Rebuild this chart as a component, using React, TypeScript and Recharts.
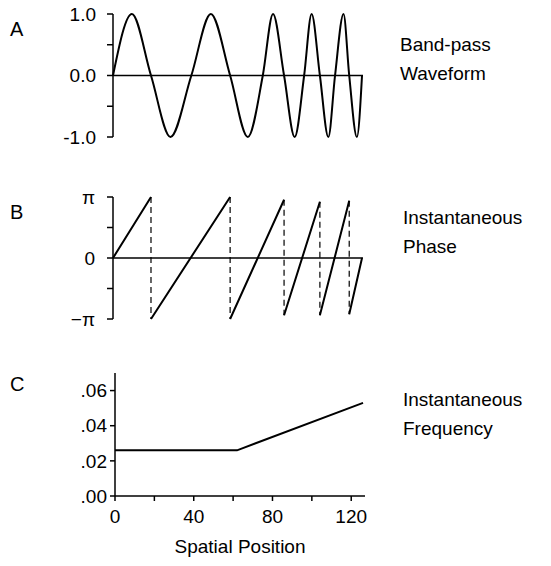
import { LineChart, Line, XAxis, YAxis, ReferenceLine } from 'recharts';

// Panel A: band-pass waveform, read at zero crossings and extrema
const waveX = [0, 9.6, 19.3, 29.2, 39.8, 49.7, 59.5, 68.5, 76.1, 81.3, 86.9, 92.3, 97.1, 100.9, 105.1, 109.4, 112.8, 117.1, 120, 123.9, 126.5];
const waveY = [0, 1, 0, -1, 0, 1, 0, -1, 0, 1, 0, -1, 0, 1, 0, -1, 0, 1, 0, -1, 0];

// Panel B: instantaneous phase (solid ramps, dashed wraps)
const PI = Math.PI;
const rampX = [0, 19.3, null, 19.3, 59.5, null, 59.5, 86.9, null, 86.9, 105.1, null, 105.1, 120, null, 120, 126.5];
const rampY = [0, PI, null, -PI, PI, null, -PI, 3.0, null, -2.95, 2.9, null, -2.95, 2.95, null, -2.9, 0];
const wrapX = [19.3, 19.3, null, 59.5, 59.5, null, 86.9, 86.9, null, 105.1, 105.1, null, 120, 120];
const wrapY = [PI, -PI, null, PI, -PI, null, 3.0, -2.95, null, 2.9, -2.95, null, 2.95, -2.9];

// Panel C: instantaneous frequency
const freqX = [0, 62, 126];
const freqY = [0.026, 0.026, 0.053];

const waveData = waveX.map((x, i) => ({ x, y: waveY[i] }));
const rampData = rampX.map((x, i) => ({ x, y: rampY[i] }));
const wrapData = wrapX.map((x, i) => ({ x, y: wrapY[i] }));
const freqData = freqX.map((x, i) => ({ x, y: freqY[i] }));

const font = '"Liberation Sans", Arial, sans-serif';
const tickStyle = { fontSize: 19, fill: '#000', fontFamily: font };
const axisLine = { stroke: '#000', strokeWidth: 1.5 };

const label = (left: number, top: number, text: string, size = 19) => (
  <div style={{ position: 'absolute', left, top, fontSize: size, fontFamily: font, color: '#000', lineHeight: '29px', whiteSpace: 'pre' }}>
    {text}
  </div>
);

export default function App() {
  return (
    <div style={{ position: 'absolute', left: 0, top: 0, width: 551, height: 566, background: '#fff' }}>
      <div style={{ position: 'absolute', left: 0, top: 0 }}>
        <LineChart width={551} height={150} data={waveData} margin={{ top: 14, bottom: 13, left: 53, right: 188 }}>
          <XAxis dataKey="x" type="number" domain={[0, 127]} hide />
          <YAxis
            domain={[-1, 1]}
            ticks={[-1, -0.5, 0, 0.5, 1]}
            tickFormatter={(v: number) => (v === 1 ? '1.0' : v === 0 ? '0.0' : v === -1 ? '-1.0' : '')}
            width={60}
            tick={tickStyle}
            tickLine={axisLine}
            axisLine={axisLine}
            tickMargin={11}
          />
          <ReferenceLine y={0} stroke="#000" strokeWidth={1.5} />
          <Line data={waveData} dataKey="y" type="monotone" stroke="#000" strokeWidth={2} dot={false} isAnimationActive={false} />
        </LineChart>
      </div>

      <div style={{ position: 'absolute', left: 0, top: 185 }}>
        <LineChart width={551} height={150} margin={{ top: 12, bottom: 16, left: 53, right: 188 }}>
          <XAxis dataKey="x" type="number" domain={[0, 127]} hide />
          <YAxis
            domain={[-PI, PI]}
            ticks={[-PI, -PI / 2, 0, PI / 2, PI]}
            tickFormatter={(v: number) => (v === PI ? 'π' : v === 0 ? '0' : v === -PI ? '−π' : '')}
            width={60}
            tick={tickStyle}
            tickLine={axisLine}
            axisLine={axisLine}
            tickMargin={12}
          />
          <ReferenceLine y={0} stroke="#000" strokeWidth={1.5} />
          <Line data={rampData} dataKey="y" type="linear" stroke="#000" strokeWidth={2} dot={false} connectNulls={false} isAnimationActive={false} />
          <Line data={wrapData} dataKey="y" type="linear" stroke="#000" strokeWidth={1.2} strokeDasharray="6 4" dot={false} connectNulls={false} isAnimationActive={false} />
        </LineChart>
      </div>

      <div style={{ position: 'absolute', left: 0, top: 360 }}>
        <LineChart width={551} height={200} data={freqData} margin={{ top: 13, bottom: 34, left: 55, right: 186 }}>
          <XAxis
            dataKey="x"
            type="number"
            domain={[0, 127]}
            ticks={[0, 20, 40, 60, 80, 100, 120]}
            tickFormatter={(v: number) => (v % 40 === 0 ? String(v) : '')}
            height={30}
            tick={tickStyle}
            tickLine={axisLine}
            axisLine={axisLine}
            tickSize={5}
            tickMargin={9}
          />
          <YAxis
            domain={[0, 0.07]}
            ticks={[0, 0.02, 0.04, 0.06]}
            tickFormatter={(v: number) => '.' + (v * 100).toFixed(0).padStart(2, '0')}
            width={60}
            tick={tickStyle}
            tickLine={axisLine}
            axisLine={axisLine}
            tickSize={5}
            tickMargin={3}
          />
          <Line dataKey="y" type="linear" stroke="#000" strokeWidth={2} dot={false} isAnimationActive={false} />
        </LineChart>
      </div>

      {label(10, 15, 'A', 20)}
      {label(10, 198, 'B', 20)}
      {label(10, 370, 'C', 20)}
      {label(400, 30, 'Band-pass\nWaveform')}
      {label(403, 203, 'Instantaneous\nPhase')}
      {label(403, 385, 'Instantaneous\nFrequency')}
      <div style={{ position: 'absolute', left: 120, width: 240, top: 536, textAlign: 'center', fontSize: 19, fontFamily: font }}>
        Spatial Position
      </div>
    </div>
  );
}
